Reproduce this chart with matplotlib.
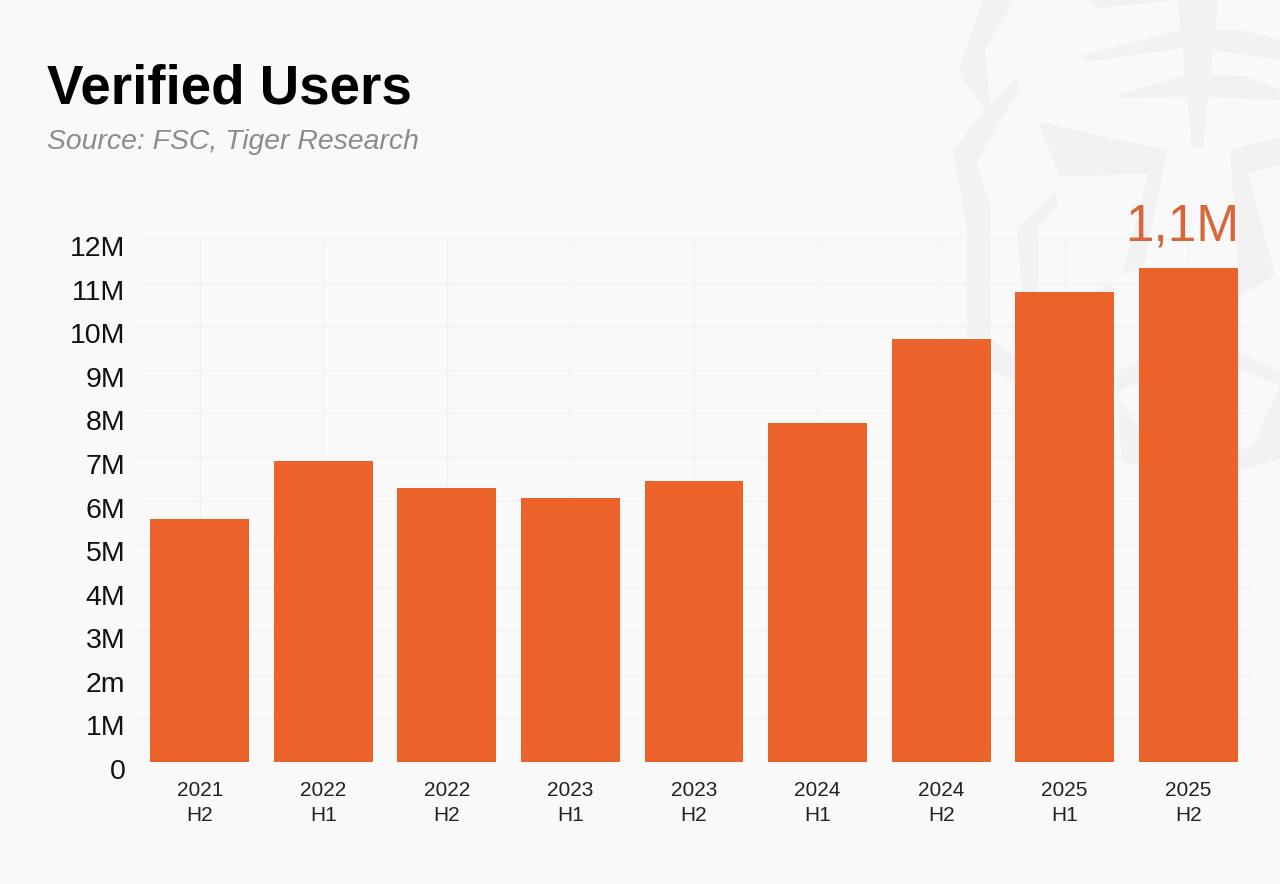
import matplotlib
matplotlib.use("Agg")
import matplotlib.pyplot as plt
from matplotlib.patches import Polygon
from matplotlib.transforms import ScaledTranslation

periods = ["2021\nH2", "2022\nH1", "2022\nH2", "2023\nH1", "2023\nH2",
           "2024\nH1", "2024\nH2", "2025\nH1", "2025\nH2"]
users = [5.58, 6.91, 6.29, 6.06, 6.45, 7.78, 9.71, 10.78, 11.34]
ytick_vals = [0, 1, 2, 3, 4, 5, 6, 7, 8, 9, 10, 11, 12]
ytick_labels = ["0", "1M", "2m", "3M", "4M", "5M", "6M", "7M", "8M", "9M", "10M", "11M", "12M"]

W, H = 1280, 884
BG = "#f9f9f9"
ORANGE = "#ec622b"

plt.rcParams["font.family"] = ["Liberation Sans", "DejaVu Sans"]

fig = plt.figure(figsize=(W / 100, H / 100), dpi=100, facecolor=BG)

# faint tiger watermark behind the chart, in pixel coords
bg = fig.add_axes([0, 0, 1, 1], zorder=0)
bg.set_xlim(0, W)
bg.set_ylim(H, 0)
bg.axis("off")
shapes = [
    [(983, 0), (1013, 0), (985, 50), (990, 107), (1016, 77), (1020, 88), (976, 163), (990, 203), (990, 337),
     (967, 337), (967, 230), (953, 150), (985, 110), (958, 72)],
    [(1017, 228), (1055, 193), (1058, 205), (1038, 227), (1038, 292), (1022, 292)],
    [(1038, 122), (1167, 150), (1145, 262), (1140, 268), (1122, 275), (1149, 173), (1060, 177)],
    [(1230, 150), (1280, 137), (1280, 165), (1248, 173), (1275, 275), (1238, 297), (1238, 268)],
    [(1178, 0), (1218, 0), (1203, 148), (1192, 148)],
    [(1083, 55), (1182, 30), (1183, 48), (1084, 62)],
    [(1215, 30), (1240, 30), (1280, 40), (1280, 60), (1213, 50)],
    [(1118, 95), (1185, 75), (1187, 97), (1119, 98)],
    [(1210, 75), (1245, 76), (1280, 90), (1280, 100), (1208, 97)],
    [(1090, 0), (1178, 0), (1097, 8)],
    [(1095, 292), (1110, 283), (1115, 292)],
    [(992, 340), (1015, 357), (1015, 382), (992, 370)],
    [(1117, 372), (1139, 362), (1139, 382), (1117, 392)],
    [(1117, 395), (1139, 430), (1139, 466), (1122, 462)],
    [(1238, 352), (1280, 372), (1280, 385), (1238, 368)],
    [(1280, 385), (1252, 447), (1238, 450), (1238, 470), (1280, 460)],
]
for pts in shapes:
    bg.add_patch(Polygon(pts, closed=True, facecolor="#f2f2f2", edgecolor="none"))

ax = fig.add_axes([138 / W, 1 - 762 / H, (1250 - 138) / W, (762 - 239) / H], zorder=1)
ax.patch.set_alpha(0)

x = list(range(len(periods)))
ax.bar(x, users, width=0.8, color=ORANGE, zorder=3)

ax.set_xlim(-0.5, len(periods) - 0.5)
ax.set_ylim(0, 12)
ax.set_yticks(ytick_vals)
ax.set_yticklabels(ytick_labels, fontsize=20.5, color="#111111")
ax.set_xticks(x)
ax.set_xticklabels(periods, fontsize=15, color="#222222", linespacing=1.43)
ax.tick_params(axis="y", length=0, pad=14)
ax.tick_params(axis="x", length=0, pad=13.4)
# y labels sit a little below their gridlines in the original
shift = ScaledTranslation(0.069, -0.07, fig.dpi_scale_trans)
for lab in ax.get_yticklabels():
    lab.set_transform(lab.get_transform() + shift)
ax.grid(True, color="#f2f2f2", linewidth=1, zorder=0)
ax.set_axisbelow(True)
for s in ax.spines.values():
    s.set_visible(False)

# only the last bar gets a label
ax.text(x[-1] + 0.41, 11.96, "1,1M", ha="right", va="baseline", fontsize=37, color="#d4683a")

fig.text(47 / W, 1 - 103 / H, "Verified Users", fontsize=39.3, fontweight="bold", color="black", va="baseline")
fig.text(47 / W, 1 - 149 / H, "Source: FSC, Tiger Research", fontsize=20.4, style="italic", color="#8c8c8c", va="baseline")

fig.savefig("out.png", dpi=100, facecolor=BG)
